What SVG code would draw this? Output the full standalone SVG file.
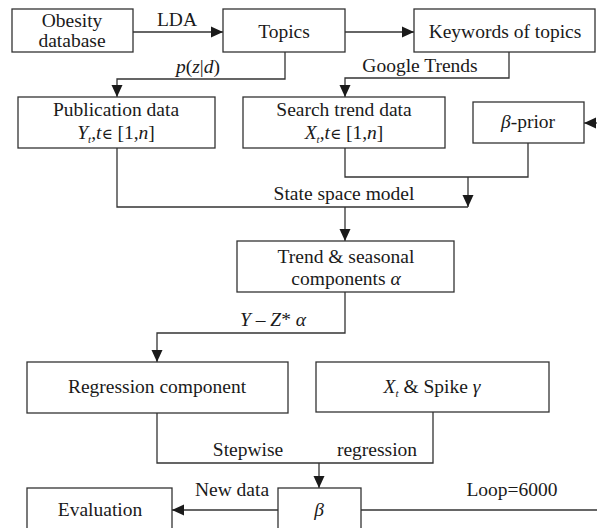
<svg xmlns="http://www.w3.org/2000/svg" width="597" height="528" viewBox="0 0 597 528">
<style>
  text { font-family: "Liberation Serif", "Times New Roman", serif; font-size: 19.5px; fill: #1a1a1a; }
  .c { text-anchor: middle; }
  .i { font-style: italic; }
  .box { fill: #ffffff; stroke: #333333; stroke-width: 1.3; }
  .ln { fill: none; stroke: #333333; stroke-width: 1.3; }
  .sub { font-size: 11px; font-style: italic; }
  .el { font-family: "DejaVu Serif", serif; font-size: 15px; }
</style>
<defs>
  <marker id="arr" markerUnits="userSpaceOnUse" markerWidth="14" markerHeight="12" refX="12" refY="6" orient="auto">
    <path d="M0,0.5 L12,6 L0,11.5 Z" fill="#1a1a1a"/>
  </marker>
</defs>
<rect width="597" height="528" fill="#ffffff"/>

<g id="connectors">
  <line class="ln" x1="133" y1="32" x2="223" y2="32" marker-end="url(#arr)"/>
  <text class="c" x="177" y="26">LDA</text>
  <line class="ln" x1="345" y1="32" x2="414" y2="32" marker-end="url(#arr)"/>
  <polyline class="ln" points="285,52 285,79 117,79 117,97" marker-end="url(#arr)"/>
  <text class="c" x="198" y="73"><tspan class="i">p</tspan>(<tspan class="i">z</tspan>|<tspan class="i">d</tspan>)</text>
  <polyline class="ln" points="509,52 509,78 345,78 345,97" marker-end="url(#arr)"/>
  <text class="c" x="420" y="72">Google Trends</text>
  <line class="ln" x1="600" y1="123" x2="584" y2="123" marker-end="url(#arr)"/>
  <polyline class="ln" points="345,148 345,177 528,177 528,143"/>
  <line class="ln" x1="468" y1="177" x2="468" y2="207" marker-end="url(#arr)"/>
  <polyline class="ln" points="117,148 117,207 468,207"/>
  <text class="c" x="344" y="200">State space model</text>
  <line class="ln" x1="345" y1="207" x2="345" y2="241" marker-end="url(#arr)"/>
  <polyline class="ln" points="345,292 345,333 157,333 157,362" marker-end="url(#arr)"/>
  <text class="c" x="273" y="326"><tspan class="i">Y</tspan> – <tspan class="i">Z</tspan>* <tspan class="i">α</tspan></text>
  <polyline class="ln" points="157,413 157,463 433,463 433,412"/>
  <text class="c" x="248" y="456">Stepwise</text>
  <text class="c" x="377" y="456">regression</text>
  <line class="ln" x1="319" y1="463" x2="319" y2="488" marker-end="url(#arr)"/>
  <line class="ln" x1="278" y1="510" x2="172" y2="510" marker-end="url(#arr)"/>
  <text class="c" x="232" y="496">New data</text>
  <line class="ln" x1="361" y1="510" x2="600" y2="510"/>
  <text class="c" x="512" y="496">Loop=6000</text>
</g>

<g id="obesity">
  <rect class="box" x="12" y="9" width="121" height="43"/>
  <text class="c" x="72" y="27">Obesity</text>
  <text class="c" x="72" y="47">database</text>
</g>
<g id="topics">
  <rect class="box" x="223" y="9" width="122" height="43"/>
  <text class="c" x="284" y="38">Topics</text>
</g>
<g id="keywords">
  <rect class="box" x="414" y="9" width="181" height="43"/>
  <text class="c" x="505" y="38">Keywords of topics</text>
</g>
<g id="publication">
  <rect class="box" x="18" y="97" width="197" height="51"/>
  <text class="c" x="116" y="116">Publication data</text>
  <text class="c" x="116" y="139"><tspan class="i">Y</tspan><tspan class="sub" dy="4">t</tspan><tspan dy="-4">,</tspan><tspan class="i">t</tspan><tspan class="el">∈</tspan> [1,<tspan class="i">n</tspan>]</text>
</g>
<g id="search">
  <rect class="box" x="243" y="97" width="202" height="51"/>
  <text class="c" x="344" y="116">Search trend data</text>
  <text class="c" x="344" y="139"><tspan class="i">X</tspan><tspan class="sub" dy="4">t</tspan><tspan dy="-4">,</tspan><tspan class="i">t</tspan><tspan class="el">∈</tspan> [1,<tspan class="i">n</tspan>]</text>
</g>
<g id="betaprior">
  <rect class="box" x="473" y="102" width="111" height="41"/>
  <text class="c" x="528" y="128"><tspan class="i">β</tspan>-prior</text>
</g>
<g id="trend">
  <rect class="box" x="237" y="241" width="217" height="51"/>
  <text class="c" x="346" y="263">Trend &amp; seasonal</text>
  <text class="c" x="346" y="285">components <tspan class="i">α</tspan></text>
</g>
<g id="regression">
  <rect class="box" x="27" y="362" width="261" height="51"/>
  <text class="c" x="157" y="393">Regression component</text>
</g>
<g id="spike">
  <rect class="box" x="316" y="362" width="233" height="50"/>
  <text class="c" x="432" y="393"><tspan class="i">X</tspan><tspan class="sub" dy="4">t</tspan><tspan dy="-4"> &amp; Spike </tspan><tspan class="i">γ</tspan></text>
</g>
<g id="beta">
  <rect class="box" x="278" y="488" width="83" height="60"/>
  <text class="c" x="319" y="516"><tspan class="i">β</tspan></text>
</g>
<g id="evaluation">
  <rect class="box" x="27" y="488" width="145" height="60"/>
  <text class="c" x="100" y="516">Evaluation</text>
</g>
</svg>
